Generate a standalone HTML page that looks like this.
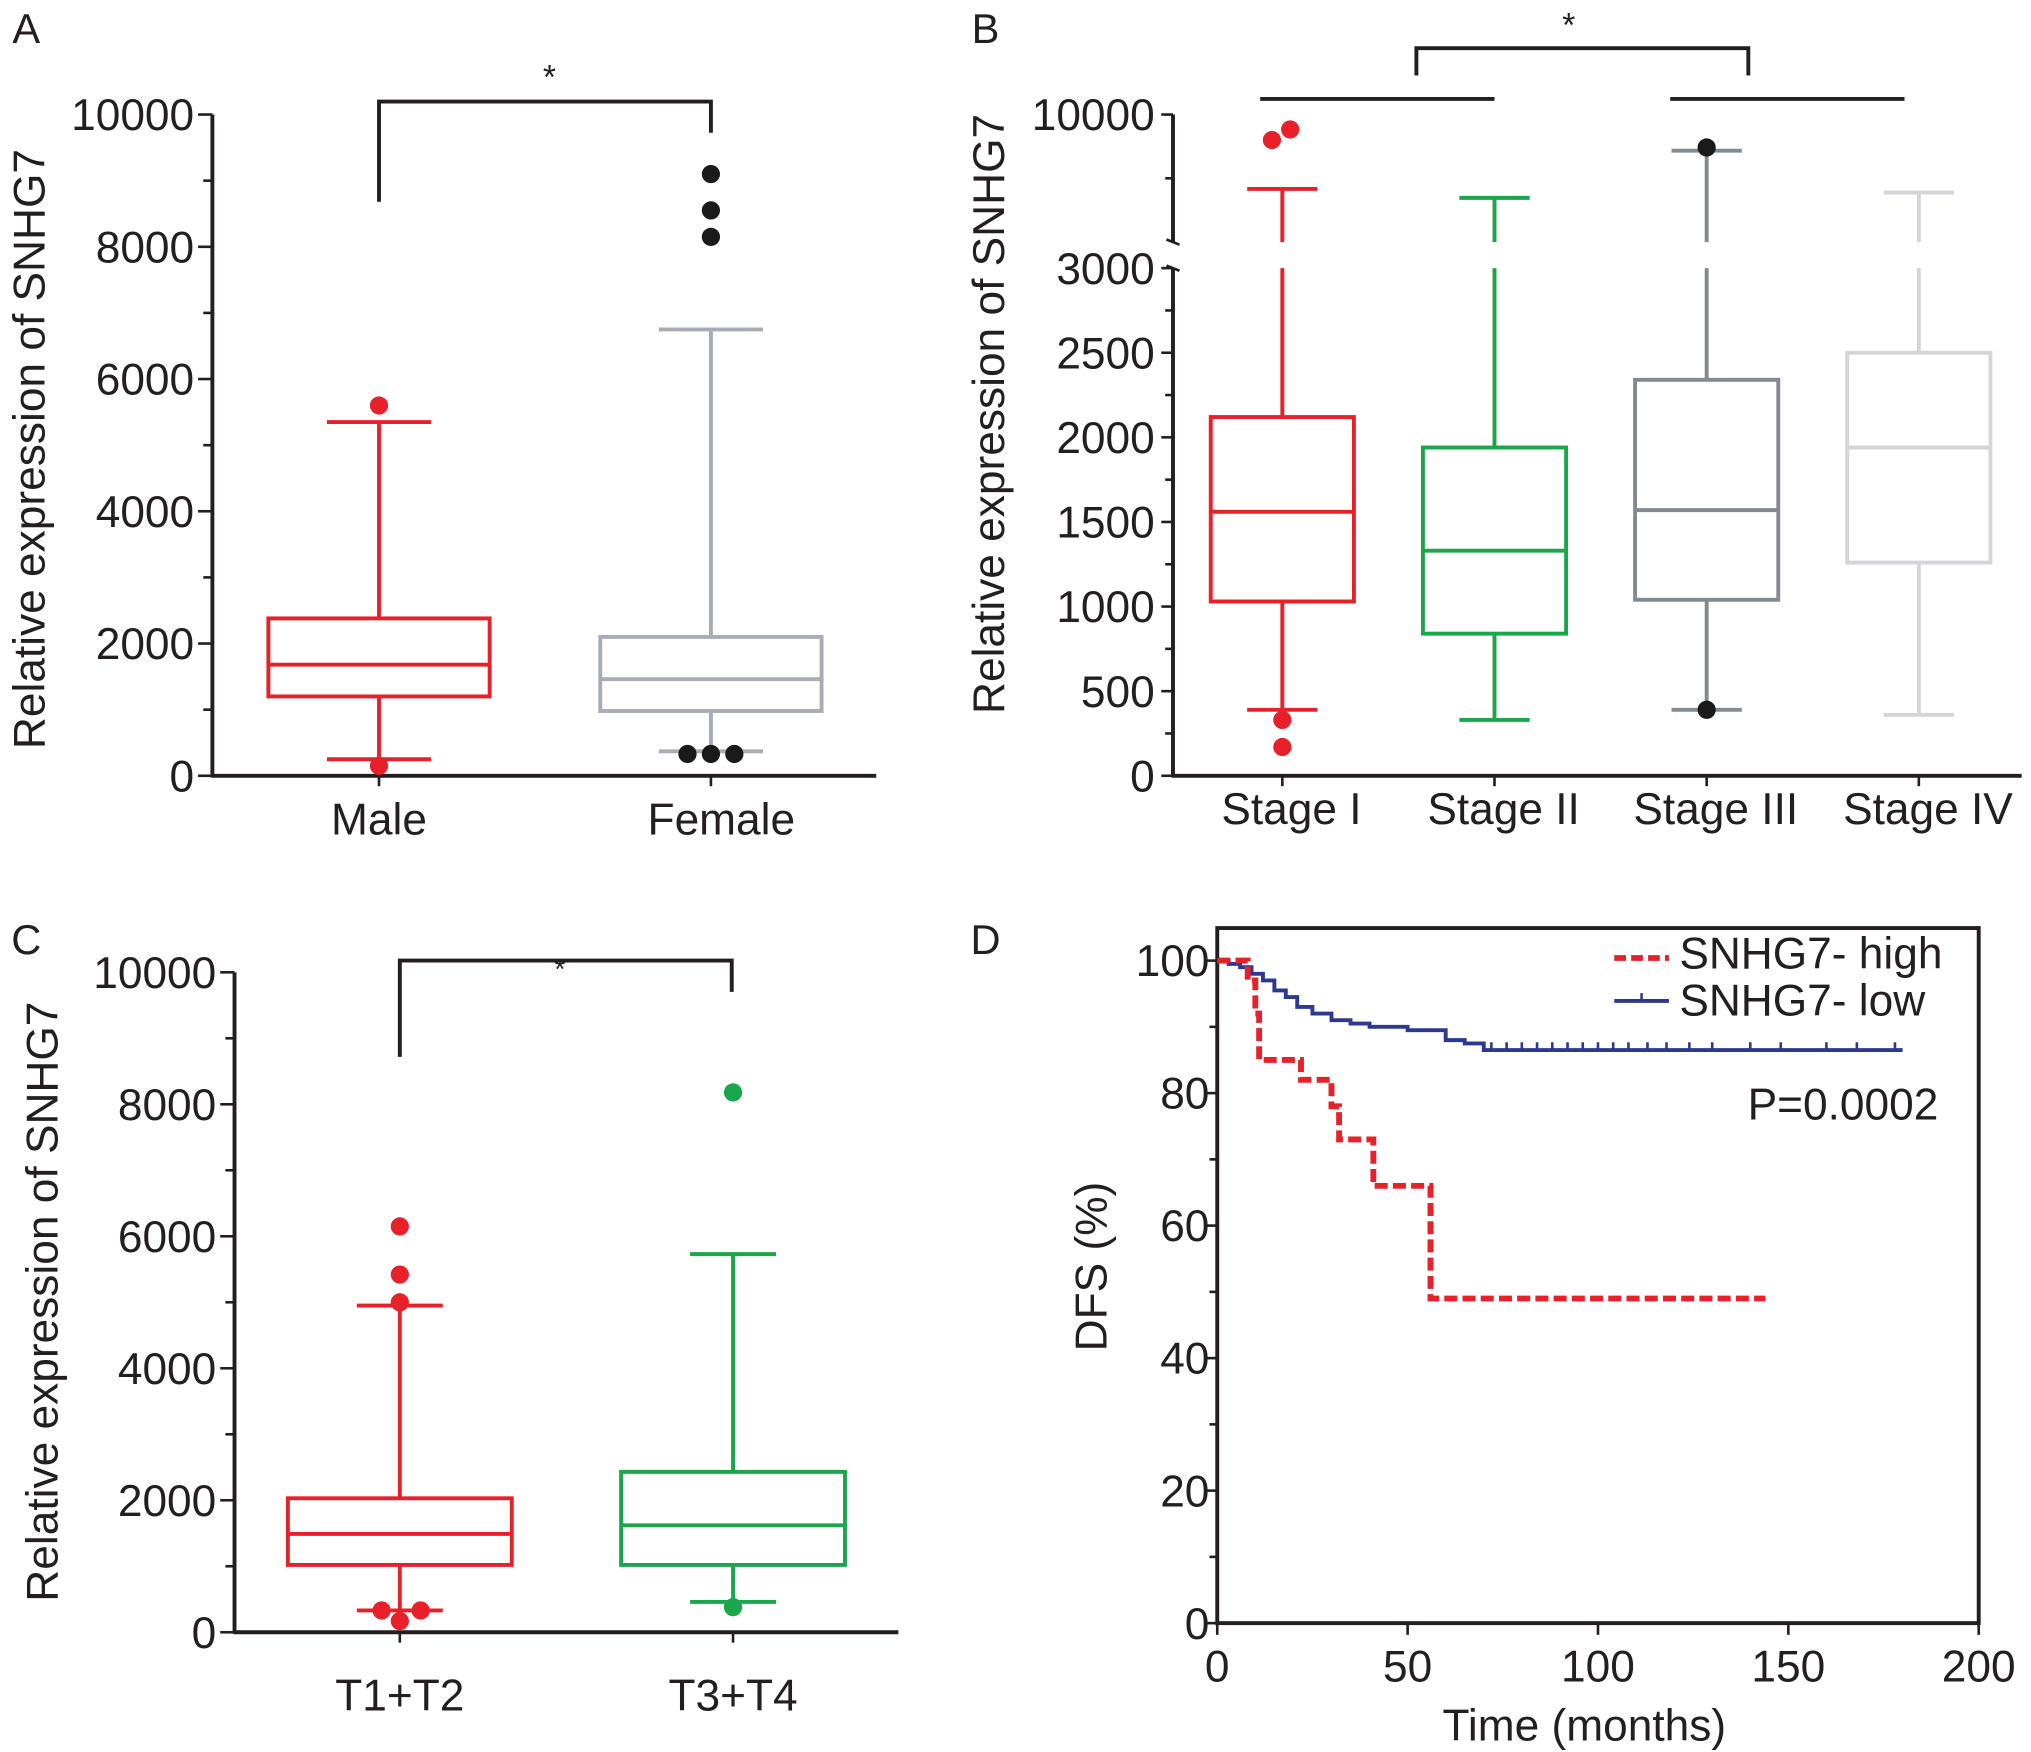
<!DOCTYPE html>
<html><head><meta charset="utf-8"><style>
html,body{margin:0;padding:0;background:#fff}
svg{display:block}
text{font-family:"Liberation Sans",Arial,sans-serif;fill:#231f20}
</style></head><body>
<svg id="fig" width="2031" height="1752" viewBox="0 0 1560 1346" xmlns="http://www.w3.org/2000/svg"></svg>
<script>
// ---- Panel A data
const aCats=["Male","Female"];
const aQ1=[1200,980],aMed=[1680,1460],aQ3=[2380,2100],aLo=[250,370],aHi=[5350,6750];
const aOutVals=[[5600,150],[9100,8550,8150,330,330,330]];
const aTicks=[0,2000,4000,6000,8000,10000];
// ---- Panel B data
const bCats=["Stage I","Stage II","Stage III","Stage IV"];
const bQ1=[1030,840,1040,1260],bMed=[1560,1330,1570,1940],bQ3=[2120,1940,2340,2500];
const bLo=[390,330,390,360],bHi=[6500,6080,8300,6330];
const bOutVals=[[8800,9300,330,170],[],[8450,390],[]];
const bTicks=[0,500,1000,1500,2000,2500,3000];
const bTopTicks=[10000];
// ---- Panel C data
const cCats=["T1+T2","T3+T4"];
const cQ1=[1020,1020],cMed=[1490,1620],cQ3=[2030,2430],cLo=[330,460],cHi=[4950,5730];
const cOutVals=[[6150,5420,5000,330,330,170],[8180,380]];
const cTicks=[0,2000,4000,6000,8000,10000];
// ---- Panel D data
const dHighT=[0,5,8,10,11,20,22,28,30,32,40,41,55,56,144];
const dHighS=[100,100,97,92,85,85,82,82,78,73,73,66,66,49,49];
const dLowT=[0,3,6,9,12,15,18,21,25,30,35,40,50,60,65,70,180];
const dLowS=[100,99.5,99,98,97,95.5,94.5,93,92,91,90.5,90,89.5,88,87.5,86.5,86.5];
const dCensor=[72,76,80,84,88,92,96,100,104,108,113,118,124,130,140,148,160,168,178];
const dYTicks=[0,20,40,60,80,100];
const dXTicks=[0,50,100,150,200];

const svg=document.getElementById('fig');
const NS="http://www.w3.org/2000/svg";
const FS=34;
function mk(tag,attrs,parent){const e=document.createElementNS(NS,tag);for(const k in attrs)e.setAttribute(k,attrs[k]);(parent||svg).appendChild(e);return e;}
function txt(x,y,s,size,anchor,parent,rot){const t=mk('text',{x:x,y:y,'font-size':size,'text-anchor':anchor||'middle'},parent);if(rot)t.setAttribute('transform','rotate(-90 '+x+' '+y+')');t.textContent=s;return t;}
function line(x1,y1,x2,y2,c,w,p){return mk('line',{x1,y1,x2,y2,stroke:c,'stroke-width':w},p);}

[["A",20,33],["B",757,33],["C",20,733],["D",757,733]].forEach(l=>{const t=txt(l[1],l[2],l[0],32,'middle');});

function boxplot(g,cx,hw,q1,med,q3,lo,hi,outs,ys,col,capw,hiY,gap){
  const yq1=ys(q1),yq3=ys(q3),ym=ys(med);
  const r=mk('rect',{x:cx-hw,y:yq3,width:2*hw,height:yq1-yq3,fill:'none',stroke:col,'stroke-width':3},g);
  
  const m=line(cx-hw,ym,cx+hw,ym,col,3,g);
  const yh=hiY!==undefined?hiY:ys(hi);
  if(gap){line(cx,yq3,cx,gap[1],col,3,g);line(cx,gap[0],cx,yh,col,3,g);}else line(cx,yq3,cx,yh,col,3,g);
  line(cx,yq1,cx,ys(lo),col,3,g);
  line(cx-capw,yh,cx+capw,yh,col,3,g);line(cx-capw,ys(lo),cx+capw,ys(lo),col,3,g);
}

// ===== Panel A
(function(){
  const g=mk('g',{});
  const y=v=>596-v/10000*508;
  line(163,88,163,597,'#231f20',3,g);line(162,596,673,596,'#231f20',3,g);
  for(let v=0;v<=10000;v+=1000){line(v%2000?156:152,y(v),163,y(v),'#231f20',2,g);}
  aTicks.forEach(v=>{const t=txt(149,y(v)+12,String(v),FS,'end',g);});
  const yl=txt(34,345,"Relative expression of SNHG7",FS,'middle',g,true);
  const xs=[291,546],cols=['#e8202a','#a9acb6'];
  aCats.forEach((c,i)=>{
    line(xs[i],596,xs[i],604,'#231f20',2,g);
    const t=txt(xs[i]+(i?8:0),641,c,FS,'middle',g);
    boxplot(g,xs[i],85,aQ1[i],aMed[i],aQ3[i],aLo[i],aHi[i],null,y,cols[i],40);
  });
  const ocols=['#e8202a','#1a1a1a'];
  aOutVals.forEach((arr,i)=>{let lowCount=0;arr.forEach(v=>{let dx=0;if(i===1&&v<1000){dx=(lowCount-1)*18;lowCount++;}
    const c=mk('circle',{cx:xs[i]+dx,cy:y(v),r:7,fill:ocols[i]},g);});});
  const br=mk('path',{d:'M291 155 V78 H546 V102',fill:'none',stroke:'#231f20','stroke-width':3},g);
  const st=txt(422,68,'*',26,'middle',g);
})();

// ===== Panel B
(function(){
  const g=mk('g',{});
  const y=v=>596-v/3000*390;
  const yu=v=>186-(v-4000)/6000*98;
  line(901,206,901,597,'#231f20',3,g);line(901,88,901,186,'#231f20',3,g);line(900,596,1553,596,'#231f20',3,g);
  line(896,184,906,188,'#231f20',2,g);line(896,204,906,208,'#231f20',2,g);
  for(let v=0;v<=3000;v+=250){line(v%500?895:892,y(v),901,y(v),'#231f20',2,g);}
  line(892,88,901,88,'#231f20',2,g);line(895,137,901,137,'#231f20',2,g);
  bTicks.forEach(v=>{const t=txt(887,y(v)+12,String(v),FS,'end',g);});
  bTopTicks.forEach(v=>{const t=txt(887,yu(v)+12,String(v),FS,'end',g);});
  const yl=txt(771,318,"Relative expression of SNHG7",FS,'middle',g,true);
  const xs=[985,1148,1311,1474],cols=['#e8202a','#1aa64a','#858a92','#d4d5d9'];
  bCats.forEach((c,i)=>{
    line(xs[i],596,xs[i],604,'#231f20',2,g);
    const t=txt(xs[i]+7,633,c,FS,'middle',g);
    boxplot(g,xs[i],55,bQ1[i],bMed[i],bQ3[i],bLo[i],bHi[i],null,y,cols[i],27,yu(bHi[i]),[186,206]);
  });
  const ocols=['#e8202a','#1aa64a','#1a1a1a','#ccc'];
  bOutVals.forEach((arr,i)=>arr.forEach((v,k)=>{const yy=v>3000?yu(v):y(v);const dx=(i===0&&v>3000)?(k?6:-8):0;
    const c=mk('circle',{cx:xs[i]+dx,cy:yy,r:7,fill:ocols[i]},g);}));
  const b1=line(968,76,1148,76,'#231f20',3,g);
  const b2=line(1283,76,1463,76,'#231f20',3,g);
  const br=mk('path',{d:'M1088 58 V37 H1343 V58',fill:'none',stroke:'#231f20','stroke-width':3},g);
  const st=txt(1205,28,'*',26,'middle',g);
})();

// ===== Panel C
(function(){
  const g=mk('g',{});
  const y=v=>1254-v/10000*507;
  line(180,747,180,1255,'#231f20',3,g);line(179,1254,690,1254,'#231f20',3,g);
  for(let v=0;v<=10000;v+=1000){line(v%2000?173:169,y(v),180,y(v),'#231f20',2,g);}
  cTicks.forEach(v=>{const t=txt(166,y(v)+12,String(v),FS,'end',g);});
  const yl=txt(44,1000,"Relative expression of SNHG7",FS,'middle',g,true);
  const xs=[307,563],cols=['#e8202a','#1aa64a'];
  cCats.forEach((c,i)=>{
    line(xs[i],1254,xs[i],1262,'#231f20',2,g);
    const t=txt(xs[i],1314,c,FS,'middle',g);
    boxplot(g,xs[i],86,cQ1[i],cMed[i],cQ3[i],cLo[i],cHi[i],null,y,cols[i],33);
  });
  cOutVals.forEach((arr,i)=>{let lc=0;arr.forEach(v=>{let dx=0;if(i===0&&v===330){dx=lc?16:-14;lc++;}
    const c=mk('circle',{cx:xs[i]+dx,cy:y(v),r:7,fill:cols[i]},g);});});
  const br=mk('path',{d:'M307 812 V738 H562 V762',fill:'none',stroke:'#231f20','stroke-width':3},g);
  const st=txt(430,752,'*',22,'middle',g);
})();

// ===== Panel D
(function(){
  const g=mk('g',{});
  const x=t=>935+t/200*585, y=s=>1247-s/100*509;
  const fr=mk('rect',{x:935,y:713,width:585,height:534,fill:'none',stroke:'#231f20','stroke-width':3},g);
  for(let s=0;s<=100;s+=10){line(s%20?929:925,y(s),935,y(s),'#231f20',2,g);}
  dYTicks.forEach(s=>{const t=txt(929,y(s)+12,String(s),FS,'end',g);});
  dXTicks.forEach(t0=>{line(x(t0),1247,x(t0),1256,'#231f20',2,g);const t=txt(x(t0),1292,String(t0),FS,'middle',g);});
  const yl=txt(850,973,"DFS (%)",FS,'middle',g,true);
  const xl=txt(1217,1337,"Time (months)",FS,'middle',g);
  function step(T,S){let d='M'+x(T[0])+' '+y(S[0]);for(let i=1;i<T.length;i++){d+=' H'+x(T[i])+' V'+y(S[i]);}return d;}
  const lo=mk('path',{d:step(dLowT,dLowS),fill:'none',stroke:'#2b3990','stroke-width':3},g);
  dCensor.forEach(t0=>{const c=line(x(t0),y(86.5)-6,x(t0),y(86.5),'#2b3990',2,g);});
  const hi=mk('path',{d:step(dHighT,dHighS),fill:'none',stroke:'#e8202a','stroke-width':4.5,'stroke-dasharray':'10 4'},g);
  const l1=line(1240,736,1282,736,'#e8202a',4.5,g);l1.setAttribute('stroke-dasharray','9 4');
  const t1=txt(1290,744,"SNHG7- high",FS,'start',g);
  const l2=line(1240,769,1282,769,'#2b3990',3,g);
  line(1261,763,1261,769,'#2b3990',2,g);
  const t2=txt(1290,780,"SNHG7- low",FS,'start',g);
  const p=txt(1489,860,"P=0.0002",FS,'end',g);
})();
</script>
</body></html>
